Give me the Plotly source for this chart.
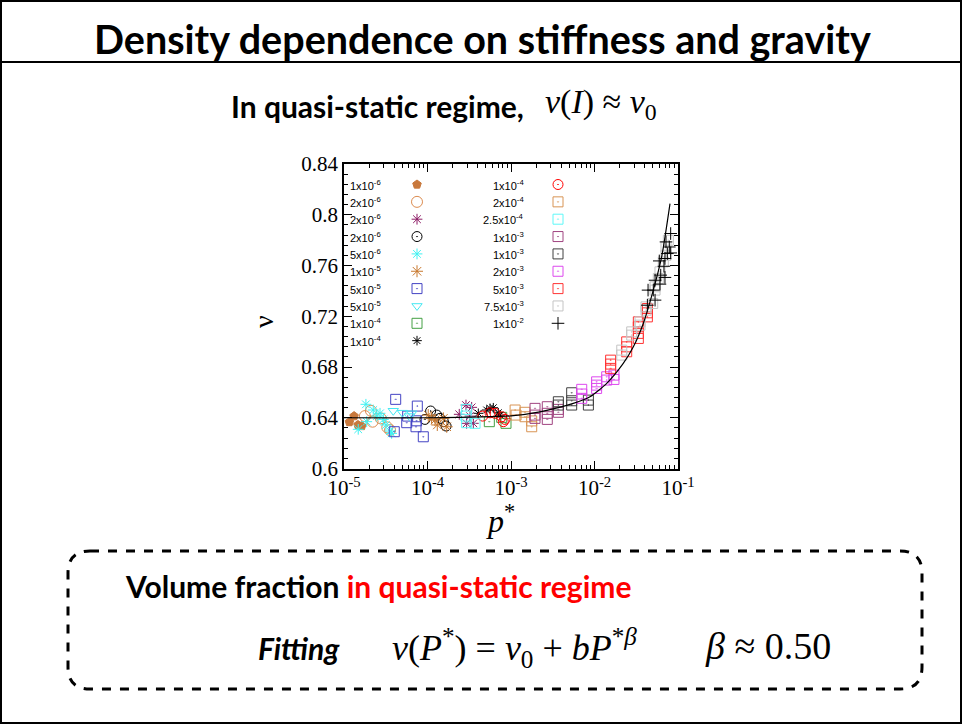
import plotly.graph_objects as go

W, H = 962, 725

# ---------------- data ----------------
labels_left = ["1x10<sup>-6</sup>", "2x10<sup>-6</sup>", "2x10<sup>-6</sup>", "2x10<sup>-6</sup>",
               "5x10<sup>-6</sup>", "1x10<sup>-5</sup>", "5x10<sup>-5</sup>", "5x10<sup>-5</sup>",
               "1x10<sup>-4</sup>", "1x10<sup>-4</sup>"]
labels_right = ["1x10<sup>-4</sup>", "2x10<sup>-4</sup>", "2.5x10<sup>-4</sup>", "1x10<sup>-3</sup>",
                "1x10<sup>-3</sup>", "2x10<sup>-3</sup>", "5x10<sup>-3</sup>", "7.5x10<sup>-3</sup>",
                "1x10<sup>-2</sup>"]

p_s01 = [1.16e-5, 1.32e-5, 1.47e-5, 1.63e-5]
v_s01 = [0.6366, 0.6413, 0.6343, 0.6335]
p_s02 = [1.78e-5, 2.10e-5, 2.20e-5, 2.75e-5, 3.30e-5, 3.56e-5]
v_s02 = [0.6413, 0.6455, 0.6369, 0.6395, 0.6324, 0.6303]
p_s03 = [2.89e-4, 3.38e-4, 2.40e-4, 2.94e-4, 3.54e-4, 3.23e-4]
v_s03 = [0.6500, 0.6482, 0.6427, 0.6356, 0.6356, 0.6413]
p_s04 = [9.33e-5, 1.09e-4, 1.29e-4, 1.67e-4, 1.55e-4, 1.41e-4]
v_s04 = [0.6387, 0.6453, 0.6421, 0.6335, 0.6369, 0.6395]
p_s05 = [1.48e-5, 1.83e-5, 1.87e-5, 2.24e-5, 2.47e-5, 2.70e-5, 2.96e-5, 3.18e-5, 3.56e-5, 3.72e-5]
v_s05 = [0.6309, 0.6506, 0.6369, 0.6461, 0.6413, 0.6435, 0.6387, 0.6343, 0.6295, 0.6277]
p_s06 = [1.02e-4, 1.23e-4, 1.31e-4, 1.12e-4, 1.55e-4, 1.70e-4]
v_s06 = [0.6421, 0.6382, 0.6343, 0.6395, 0.6395, 0.6329]
p_s07 = [4.16e-5, 4.00e-5, 5.79e-5, 5.64e-5, 7.55e-5, 7.28e-5, 7.40e-5, 8.91e-5]
v_s07 = [0.6545, 0.6290, 0.6413, 0.6361, 0.6492, 0.6329, 0.6376, 0.6250]
p_s08 = [3.89e-5, 5.00e-5, 6.05e-5, 6.47e-5]
v_s08 = [0.6455, 0.6440, 0.6413, 0.6435]
p_s09 = [5.50e-4, 7.74e-4, 8.71e-4]
v_s09 = [0.6369, 0.6403, 0.6356]
p_s10 = [4.06e-4, 5.12e-4, 5.61e-4, 6.14e-4, 7.05e-4, 7.38e-4]
v_s10 = [0.6435, 0.6461, 0.6474, 0.6479, 0.6439, 0.6421]
p_s11 = [4.58e-4, 5.61e-4, 6.43e-4, 7.74e-4, 8.47e-4, 8.09e-4]
v_s11 = [0.6413, 0.6439, 0.6435, 0.6408, 0.6387, 0.6369]
p_s12 = [1.12e-3, 1.15e-3, 1.47e-3, 1.47e-3, 1.77e-3, 1.77e-3]
v_s12 = [0.6461, 0.6421, 0.6443, 0.6408, 0.6329, 0.6375]
p_s13 = [2.94e-4, 2.89e-4, 2.94e-4, 3.71e-4]
v_s13 = [0.6466, 0.6413, 0.6361, 0.6356]
p_s14 = [1.94e-3, 1.94e-3, 1.94e-3, 2.72e-3, 2.72e-3, 2.72e-3, 3.69e-3, 3.69e-3]
v_s14 = [0.6474, 0.6421, 0.6395, 0.6487, 0.6435, 0.6387, 0.6466, 0.6443]
p_s15 = [3.69e-3, 3.69e-3, 5.33e-3, 5.33e-3, 5.33e-3, 8.45e-3, 8.45e-3]
v_s15 = [0.6526, 0.6500, 0.6597, 0.6534, 0.6500, 0.6539, 0.6500]
p_s16 = [7.03e-3, 7.03e-3, 7.03e-3, 1.06e-2, 1.06e-2, 1.06e-2, 1.40e-2, 1.40e-2, 1.71e-2, 1.71e-2]
v_s16 = [0.6624, 0.6587, 0.6553, 0.6683, 0.6657, 0.6631, 0.6723, 0.6697, 0.6736, 0.6702]
p_s17 = [1.56e-2, 1.56e-2, 1.56e-2, 2.43e-2, 2.43e-2, 2.43e-2, 3.35e-2, 3.35e-2, 3.35e-2, 3.35e-2,
         4.30e-2, 4.30e-2, 4.30e-2]
v_s17 = [0.6854, 0.6823, 0.6789, 0.6998, 0.6959, 0.6920, 0.7156, 0.7117, 0.7065, 0.7025,
         0.7261, 0.7227, 0.7195]
p_s18 = [2.12e-2, 2.12e-2, 2.79e-2, 2.79e-2, 3.51e-2, 3.51e-2, 4.14e-2, 4.14e-2, 4.98e-2, 5.31e-2,
         5.31e-2, 5.81e-2, 6.08e-2, 6.67e-2, 7.18e-2, 7.18e-2, 7.66e-2]
v_s18 = [0.6933, 0.6894, 0.7077, 0.7051, 0.7156, 0.7130, 0.7274, 0.7248, 0.7301, 0.7406,
         0.7432, 0.7498, 0.7550, 0.7628, 0.7681, 0.7746, 0.7799]
p_s19 = [8.17e-2, 7.18e-2, 7.87e-2, 7.45e-2, 8.17e-2, 6.98e-2, 5.97e-2, 6.79e-2, 5.31e-2, 6.21e-2,
         6.98e-2, 6.08e-2, 5.06e-2, 4.38e-2, 5.31e-2, 4.30e-2]
v_s19 = [0.7852, 0.7786, 0.7746, 0.7694, 0.7699, 0.7655, 0.7636, 0.7594, 0.7484, 0.7524,
         0.7506, 0.7453, 0.7406, 0.7406, 0.7327, 0.7287]

fit_p = [1e-5, 1e-4, 1e-3, 2.22e-3, 5.57e-3, 8.83e-3, 1.40e-2, 2.21e-2, 2.92e-2, 3.84e-2,
         5.06e-2, 6.37e-2, 8.02e-2]
fit_v = [0.640, 0.640, 0.6415, 0.6447, 0.6513, 0.6565, 0.6671, 0.6828, 0.6959, 0.7143,
         0.7406, 0.7668, 0.8088]

y_tickvals = [0.6, 0.64, 0.68, 0.72, 0.76, 0.8, 0.84]
y_ticktext = ["0.6", "0.64", "0.68", "0.72", "0.76", "0.8", "0.84"]
x_tickvals = [1e-5, 1e-4, 1e-3, 1e-2, 1e-1]
x_ticktext = ["10<sup>-5</sup>", "10<sup>-4</sup>", "10<sup>-3</sup>", "10<sup>-2</sup>", "10<sup>-1</sup>"]
x_minor_vals = [m * d for d in [1e-5, 1e-4, 1e-3, 1e-2] for m in range(2, 10)]

# ---------------- styles ----------------
P = [p_s01, p_s02, p_s03, p_s04, p_s05, p_s06, p_s07, p_s08, p_s09, p_s10,
     p_s11, p_s12, p_s13, p_s14, p_s15, p_s16, p_s17, p_s18, p_s19]
V = [v_s01, v_s02, v_s03, v_s04, v_s05, v_s06, v_s07, v_s08, v_s09, v_s10,
     v_s11, v_s12, v_s13, v_s14, v_s15, v_s16, v_s17, v_s18, v_s19]
styles = [
    ("pentagon", "#c8783c", 9),
    ("circle-open", "#dc8c50", 11),
    ("asterisk-open", "#8e1d66", 9),
    ("circle-open-dot", "#000000", 10),
    ("asterisk-open", "#3ff2f2", 9),
    ("asterisk-open", "#c8782e", 10),
    ("square-open-dot", "#4444c4", 10),
    ("triangle-down-open", "#44e8f2", 9),
    ("square-open-dot", "#44a044", 10),
    ("asterisk-open", "#000000", 8),
    ("circle-open-dot", "#ff0000", 10),
    ("square-open-dot", "#d89454", 10),
    ("square-open-dot", "#5ef8f8", 10),
    ("square-open-dot", "#a04480", 10),
    ("square-open-dot", "#404040", 10),
    ("square-open-dot", "#dd48ee", 10),
    ("square-open-dot", "#ff3434", 10),
    ("square-open-dot", "#c4c4c4", 10),
    ("cross-thin-open", "#000000", 9),
]


def fx(x):
    return x / W


def fy(y):
    return 1 - y / H


fig = go.Figure()

for i in range(len(P)):
    sym, col, sz = styles[i]
    fig.add_trace(go.Scatter(
        x=P[i], y=V[i], mode="markers", showlegend=False,
        marker=dict(symbol=sym, color=col, size=sz, line=dict(color=col, width=1))))

fig.add_trace(go.Scatter(x=fit_p, y=fit_v, mode="lines", showlegend=False,
                         line=dict(color="black", width=1.2, shape="spline", smoothing=0.6)))

# custom legend (text then symbol) on a hidden overlay axis pair in pixel units
row0, drow = 184.5, 17.35
annotations = []
for labels, off, mx, tx in [(labels_left, 0, 417, 383), (labels_right, 10, 558, 526)]:
    for r, lab in enumerate(labels):
        sym, col, sz = styles[off + r]
        yy = row0 + r * drow
        fig.add_trace(go.Scatter(x=[mx], y=[yy], mode="markers", showlegend=False,
                                 marker=dict(symbol=sym, color=col, size=sz,
                                             line=dict(color=col, width=1)),
                                 xaxis="x2", yaxis="y2", hoverinfo="skip"))
        annotations.append(dict(x=fx(tx), y=fy(yy), text=lab, xanchor="right",
                                font=dict(family="Liberation Sans", size=11, color="black")))

serif = "Liberation Serif"
sans = "Lato"

annotations += [
    dict(x=fx(483), y=fy(38), text="<b>Density dependence on stiffness and gravity</b>",
         font=dict(family=sans, size=39.5, color="black")),
    dict(x=fx(229), y=fy(106), xanchor="left", text="<b>In quasi-static regime,</b>",
         font=dict(family=sans, size=30, color="black")),
    dict(x=fx(543), y=fy(104), xanchor="left",
         text="<i>ν</i>(<i>I</i>) ≈ <i>ν</i><sub>0</sub>",
         font=dict(family=serif, size=34, color="black")),
    dict(x=fx(263), y=fy(322), text="ν", textangle=-90,
         font=dict(family=serif, size=28, color="black")),
    dict(x=fx(500), y=fy(519), text="<i>p</i><sup>*</sup>",
         font=dict(family=serif, size=32, color="black")),
    dict(x=fx(123), y=fy(586), xanchor="left",
         text="<b>Volume fraction <span style='color:#ff0000'>in quasi-static regime</span></b>",
         font=dict(family=sans, size=30, color="black")),
    dict(x=fx(256), y=fy(648), xanchor="left", text="<b><i>Fitting</i></b>",
         font=dict(family=sans, size=30, color="black")),
    dict(x=fx(390), y=fy(648), xanchor="left",
         text="<i>ν</i>(<i>P</i><sup>*</sup>) = <i>ν</i><sub>0</sub> + <i>bP</i><sup>*<i>β</i></sup>",
         font=dict(family=serif, size=36, color="black")),
    dict(x=fx(703), y=fy(646), xanchor="left", text="<i>β</i> ≈ 0.50",
         font=dict(family=serif, size=38, color="black")),
]
for a in annotations:
    a.setdefault("xref", "paper")
    a.setdefault("yref", "paper")
    a.setdefault("showarrow", False)
    a.setdefault("xanchor", "center")
    a.setdefault("yanchor", "middle")

# rounded dashed box
x0, x1, y0, y1, r = fx(68), fx(922), fy(689), fy(551), 22
rx, ry = r / W, r / H
box_path = (f"M {x0+rx},{y1} L {x1-rx},{y1} Q {x1},{y1} {x1},{y1-ry} "
            f"L {x1},{y0+ry} Q {x1},{y0} {x1-rx},{y0} L {x0+rx},{y0} "
            f"Q {x0},{y0} {x0},{y0+ry} L {x0},{y1-ry} Q {x0},{y1} {x0+rx},{y1} Z")

shapes = [
    dict(type="rect", xref="paper", yref="paper", x0=fx(1), x1=fx(961), y0=fy(723), y1=fy(1),
         line=dict(color="black", width=2)),
    dict(type="line", xref="paper", yref="paper", x0=0, x1=1, y0=fy(62), y1=fy(62),
         line=dict(color="black", width=2)),
    dict(type="path", xref="paper", yref="paper", path=box_path,
         line=dict(color="black", width=3, dash="dash")),
]

fig.update_layout(
    width=W, height=H, autosize=False,
    margin=dict(l=0, r=0, t=0, b=0, pad=0, autoexpand=False),
    paper_bgcolor="white", plot_bgcolor="rgba(0,0,0,0)",
    xaxis=dict(type="log", range=[-5, -1], domain=[fx(344), fx(678)],
               tickvals=x_tickvals, ticktext=x_ticktext,
               ticks="inside", ticklen=8, tickwidth=1, tickcolor="black",
               showline=True, linecolor="black", linewidth=1.5, mirror="ticks",
               showgrid=False, zeroline=False, anchor="y",
               minor=dict(ticks="inside", ticklen=4, tickvals=x_minor_vals,
                          tickcolor="black", showgrid=False),
               tickfont=dict(family=serif, size=21, color="black")),
    yaxis=dict(range=[0.6, 0.84], domain=[fy(468.5), fy(164)], anchor="x",
               tickvals=y_tickvals, ticktext=y_ticktext,
               ticks="inside", ticklen=8, tickwidth=1, tickcolor="black",
               showline=True, linecolor="black", linewidth=1.5, mirror="ticks",
               showgrid=False, zeroline=False,
               minor=dict(ticks="inside", ticklen=4, dtick=0.008, tickcolor="black", showgrid=False),
               tickfont=dict(family=serif, size=21, color="black")),
    xaxis2=dict(range=[0, W], domain=[0, 1], visible=False, anchor="y2"),
    yaxis2=dict(range=[H, 0], domain=[0, 1], visible=False, anchor="x2"),
    annotations=annotations,
    shapes=shapes,
)

fig.write_html("out.html")
